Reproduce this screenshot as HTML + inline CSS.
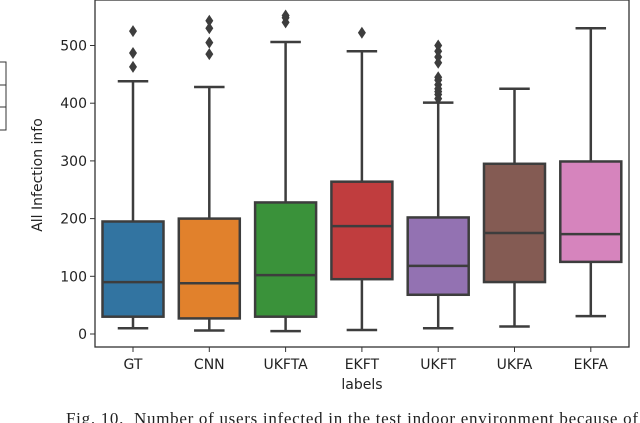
<!DOCTYPE html>
<html><head><meta charset="utf-8"><style>
html,body{margin:0;padding:0;background:#fff;width:640px;height:423px;overflow:hidden}
svg text{font-family:"DejaVu Sans","Liberation Sans",sans-serif;fill:#222}
</style></head><body>
<svg id="chart" width="640" height="423" viewBox="0 0 640 423" xmlns="http://www.w3.org/2000/svg">
<rect x="-2" y="62" width="8" height="68" fill="#fff" stroke="#333" stroke-width="1"/>
<line x1="0" y1="85" x2="6" y2="85" stroke="#333"/><line x1="0" y1="107" x2="6" y2="107" stroke="#333"/>
<g id="plot"></g>
<text transform="translate(42,175) rotate(-90)" text-anchor="middle" font-size="14">All Infection info</text>
<text x="362" y="389" text-anchor="middle" font-size="14">labels</text>
<text x="66" y="424" font-size="17" textLength="572" lengthAdjust="spacing" xml:space="preserve" style="font-family:'Liberation Serif',serif;white-space:pre">Fig. 10.  Number of users infected in the test indoor environment because of</text>
</svg>
<script>
const categories=["GT","CNN","UKFTA","EKFT","UKFT","UKFA","EKFA"];
const colors=["#3274a1","#e1812c","#3a923a","#c03d3e","#9372b2","#845b53","#d684bd"];
const whiskerLow=[10,6,5,7,10,13,31];
const q1=[30,27,30,95,68,90,125];
const median=[90,88,102,187,118,175,173];
const q3=[195,200,228,264,202,295,299];
const whiskerHigh=[438,428,506,490,401,425,530];
const outliers=[[463,487,525],[485,505,530,543],[540,548,552],[522],[408,415,420,425,432,440,445,470,480,490,500],[],[]];
const yTicks=[0,100,200,300,400,500];
const L=95,R=629,T=0,B=347;
const y=v=>334-v*0.577;
const x=i=>133+i*76.3;
const bw=61;
const ns="http://www.w3.org/2000/svg";
const g=document.getElementById('plot');
function mk(tag,a){const e=document.createElementNS(ns,tag);for(const k in a)e.setAttribute(k,a[k]);g.appendChild(e);return e;}
let fr=mk('rect',{x:L,y:T,width:R-L,height:B-T,fill:'none',stroke:'#333','stroke-width':1.3});


yTicks.forEach(t=>{
 let l=mk('line',{x1:L-5,x2:L,y1:y(t),y2:y(t),stroke:'#333'});
 
 
 let tx=mk('text',{x:L-8,y:y(t)+5,'text-anchor':'end','font-size':14});
 tx.textContent=t;
 
 
});
categories.forEach((c,i)=>{
 const cx=x(i),s='#3d3d3d';
 let l=mk('line',{x1:cx,x2:cx,y1:B,y2:B+5,stroke:'#333'});
 
 
 let tx=mk('text',{x:cx,y:B+22,'text-anchor':'middle','font-size':14});
 tx.textContent=c;
 
 
 let w=mk('path',{d:`M${cx} ${y(whiskerLow[i])}V${y(q1[i])}M${cx} ${y(q3[i])}V${y(whiskerHigh[i])}M${cx-bw/4} ${y(whiskerLow[i])}H${cx+bw/4}M${cx-bw/4} ${y(whiskerHigh[i])}H${cx+bw/4}`,stroke:s,'stroke-width':2.5,fill:'none'});
 
 
 let b=mk('rect',{x:cx-bw/2,y:y(q3[i]),width:bw,height:y(q1[i])-y(q3[i]),fill:colors[i],stroke:s,'stroke-width':2.5});
 
 
 let m=mk('line',{x1:cx-bw/2,x2:cx+bw/2,y1:y(median[i]),y2:y(median[i]),stroke:s,'stroke-width':2.5});
 
 
 outliers[i].forEach(v=>{
  const yy=y(v);
  let d=mk('path',{d:`M${cx} ${yy-6}L${cx+4} ${yy}L${cx} ${yy+6}L${cx-4} ${yy}Z`,fill:s});
  
  
 });
});
</script>
</body></html>
